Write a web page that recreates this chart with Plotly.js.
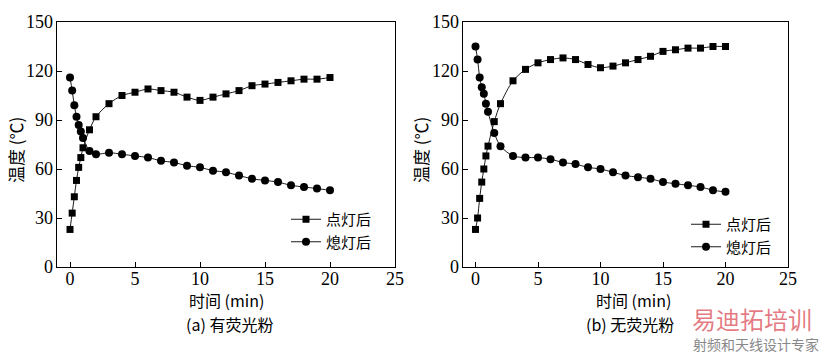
<!DOCTYPE html>
<html><head><meta charset="utf-8">
<script src="https://cdn.plot.ly/plotly-3.0.1.min.js"></script>
<style>html,body{margin:0;padding:0;background:#fff}#chart{width:824px;height:354px}</style>
</head><body><div id="chart"></div>
<script>
const timeMin = [0, 1/6, 1/3, 0.5, 2/3, 5/6, 1, 1.5, 2, 3, 4, 5, 6, 7, 8, 9, 10, 11, 12, 13, 14, 15, 16, 17, 18, 19, 20];
// (a) 有荧光粉
const aOn  = [23, 33, 43, 53, 61, 67, 73, 84, 92, 100, 105, 107, 109, 108, 107, 104, 102, 104, 106, 108, 111, 112, 113, 114, 115, 115, 116];
const aOff = [116, 108, 99, 92, 87, 83, 79, 71, 69, 70, 69, 68, 67, 65, 64, 62, 61, 59, 58, 56, 54, 53, 52, 50, 49, 48, 47];
// (b) 无荧光粉
const bOn  = [23, 30, 42, 52, 60, 68, 74, 89, 100, 114, 121, 125, 127, 128, 127, 124, 122, 123, 125, 127, 129, 132, 133, 134, 134, 135, 135];
const bOff = [135, 127, 116, 110, 106, 100, 95, 82, 74, 68, 67, 67, 66, 64, 63, 61, 60, 58, 56, 55, 54, 52, 51, 50, 49, 47, 46];
const seriesNames = ['点灯后', '熄灯后'];
const xTicks = [0, 5, 10, 15, 20, 25];
const yTicks = [0, 30, 60, 90, 120, 150];

const FONT = 'Liberation Serif';
const CJK = 'Noto Sans CJK SC';

function tr(x, y, name, sym, xa, ya, leg) {
  return {x: x, y: y, name: name, type: 'scatter', mode: 'lines+markers',
    xaxis: xa, yaxis: ya, legend: leg,
    line: {color: '#000', width: 0.9, shape: 'spline', smoothing: 0.8},
    marker: {symbol: sym, size: sym === 'square' ? 7 : 8, color: '#000'}};
}
const data = [
  tr(timeMin, aOn, seriesNames[0], 'square', 'x', 'y', 'legend'),
  tr(timeMin, aOff, seriesNames[1], 'circle', 'x', 'y', 'legend'),
  tr(timeMin, bOn, seriesNames[0], 'square', 'x2', 'y2', 'legend2'),
  tr(timeMin, bOff, seriesNames[1], 'circle', 'x2', 'y2', 'legend2')
];
function xax(dom, anchor) {
  return {domain: dom, anchor: anchor, range: [-1, 25], tickvals: xTicks, ticktext: xTicks.map(String),
    ticks: 'inside', ticklen: 5, tickwidth: 1, tickcolor: '#000', showline: true, linewidth: 1.3, linecolor: '#000',
    mirror: true, showgrid: false, zeroline: false, ticklabelstandoff: -5,
    tickfont: {family: FONT, size: 18, color: '#000'}};
}
function yax(dom, anchor) {
  return {domain: dom, anchor: anchor, range: [0, 150], tickvals: yTicks, ticktext: yTicks.map(String),
    ticks: 'inside', ticklen: 5, tickwidth: 1, tickcolor: '#000', showline: true, linewidth: 1.3, linecolor: '#000',
    mirror: true, showgrid: false, zeroline: false, ticklabelstandoff: -1,
    tickfont: {family: FONT, size: 18, color: '#000'}};
}
const yDom = [87/354, 332/354];
const legBase = {bgcolor: 'rgba(0,0,0,0)', borderwidth: 0, font: {family: CJK, size: 15, color: '#000'},
  xanchor: 'left', yanchor: 'top', tracegroupgap: 0, itemwidth: 30};
const ann = (x, y, text, size, angle, color) => ({xref: 'paper', yref: 'paper', x: x, y: y, text: text,
  showarrow: false, textangle: angle || 0, font: {family: CJK, size: size, color: color || '#000'}, xanchor: 'center', yanchor: 'middle'});
const layout = {
  width: 824, height: 354, margin: {l: 0, r: 0, t: 0, b: 0}, paper_bgcolor: '#fff', plot_bgcolor: '#fff',
  xaxis: xax([57/824, 395/824], 'y'), yaxis: yax(yDom, 'x'),
  xaxis2: xax([463/824, 788/824], 'y2'), yaxis2: yax(yDom, 'x2'),
  legend: Object.assign({}, legBase, {x: 286/824, y: 1 - 203/354}),
  legend2: Object.assign({}, legBase, {x: 686/824, y: 1 - 208/354}),
  annotations: [
    ann(15/824, 1 - 150/354, '温度 (℃)', 17, -90),
    ann(420/824, 1 - 150/354, '温度 (℃)', 17, -90),
    ann(226/824, 1 - 300/354, '时间 (min)', 16),
    ann(633/824, 1 - 300/354, '时间 (min)', 16),
    ann(229/824, 1 - 324/354, '(a) 有荧光粉', 16),
    ann(630/824, 1 - 324/354, '(b) 无荧光粉', 16),
    ann(752/824, 1 - 318/354, '易迪拓培训', 24, 0, 'rgba(220,80,90,0.75)'),
    ann(756/824, 1 - 344/354, '射频和天线设计专家', 14, 0, '#888')
  ]
};
Plotly.newPlot('chart', data, layout, {staticPlot: true});
</script></body></html>
